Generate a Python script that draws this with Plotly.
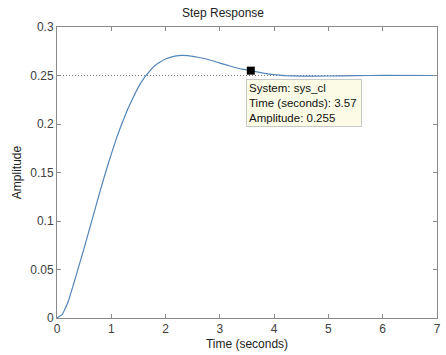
import plotly.graph_objects as go

# Step response of sys_cl
time_s = [0, 0.1, 0.2, 0.3, 0.4, 0.5, 0.6, 0.7, 0.8, 0.9, 1.0, 1.1, 1.2, 1.3, 1.4,
          1.5, 1.6, 1.7, 1.8, 1.9, 2.0, 2.1, 2.2, 2.3, 2.4, 2.5, 2.6, 2.8, 3.0,
          3.2, 3.4, 3.57, 3.8, 4.0, 4.2, 4.5, 5.0, 5.5, 6.0, 7.0]
amplitude = [0, 0.004, 0.016, 0.034, 0.053, 0.072, 0.092, 0.112, 0.132, 0.151,
             0.169, 0.186, 0.201, 0.215, 0.227, 0.238, 0.247, 0.254, 0.260, 0.264,
             0.267, 0.269, 0.2703, 0.2707, 0.2705, 0.2698, 0.2688, 0.2662, 0.2628,
             0.2595, 0.2565, 0.255, 0.2525, 0.2508, 0.2499, 0.2494, 0.2495, 0.2499,
             0.2501, 0.2500]
final_value = 0.25
tip_time = 3.57
tip_amp = 0.255
x_ticks = [0, 1, 2, 3, 4, 5, 6, 7]
y_ticks = [0, 0.05, 0.1, 0.15, 0.2, 0.25, 0.3]
y_tick_labels = ["0", "0.05", "0.1", "0.15", "0.2", "0.25", "0.3"]

FONT = "Liberation Sans, Arial, sans-serif"
AX = "#8a8a8a"
TXT = "#404040"

fig = go.Figure()
fig.add_trace(go.Scatter(x=[0, 7], y=[final_value, final_value], mode="lines",
                         line=dict(color="#777777", width=1, dash="1px,2px"),
                         hoverinfo="skip", showlegend=False))
fig.add_trace(go.Scatter(x=time_s, y=amplitude, mode="lines",
                         line=dict(color="#5285b8", width=1.2, shape="spline", smoothing=0.3),
                         showlegend=False))
fig.add_trace(go.Scatter(x=[tip_time], y=[tip_amp], mode="markers",
                         marker=dict(symbol="square", size=8, color="black"),
                         showlegend=False))

fig.add_annotation(
    x=3.48, y=0.2465, xref="x", yref="y", xanchor="left", yanchor="top",
    text="System: sys_cl<br>Time (seconds): 3.57<br>Amplitude: 0.255",
    showarrow=False, align="left", width=110,
    font=dict(family=FONT, size=11.5, color="#111111"),
    bgcolor="#fcfce6", bordercolor="#c8c8c8", borderwidth=1, borderpad=2,
)

axis_common = dict(showline=True, linecolor=AX, linewidth=1, mirror="ticks",
                   ticks="inside", ticklen=4, tickcolor=AX, showgrid=False,
                   zeroline=False, automargin=False,
                   tickfont=dict(family=FONT, size=12, color=TXT))

fig.update_layout(
    width=446, height=355,
    margin=dict(l=57, r=9, t=27, b=37),
    paper_bgcolor="white", plot_bgcolor="white",
    title=dict(text="Step Response", x=0.5, xanchor="center", y=0.963, yanchor="middle",
               automargin=False,
               font=dict(family=FONT, size=12, color="#222222")),
    xaxis=dict(range=[0, 7], tickvals=x_ticks,
               title=dict(text="Time (seconds)", standoff=4,
                          font=dict(family=FONT, size=12, color="#222222")),
               **axis_common),
    yaxis=dict(range=[0, 0.3], tickvals=y_ticks, ticktext=y_tick_labels,
               title=dict(text="Amplitude", standoff=6,
                          font=dict(family=FONT, size=12, color="#222222")),
               **axis_common),
)

fig.write_html("out.html", config={"displayModeBar": False},
               post_script="document.body.style.margin='0px';document.body.style.overflow='hidden';")
